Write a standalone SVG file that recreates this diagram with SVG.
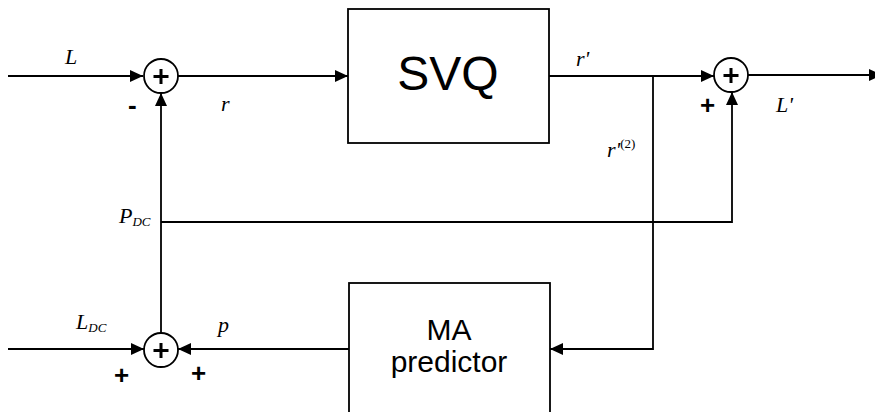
<svg xmlns="http://www.w3.org/2000/svg" width="875" height="412" viewBox="0 0 875 412">
<defs>
<marker id="arr" markerUnits="userSpaceOnUse" markerWidth="14" markerHeight="12" refX="13" refY="6" orient="auto">
<path d="M0,0 L13,6 L0,12 Z" fill="#000"/>
</marker>
<style>
.ln{fill:none;stroke:#000;stroke-width:1.8}
.box{fill:#fff;stroke:#000;stroke-width:1.8}
.sum{fill:#fff;stroke:#000;stroke-width:1.8}
.plus{stroke:#000;stroke-width:3;fill:none}
.lab{font-family:"Liberation Serif",serif;font-style:italic;font-size:22px;fill:#000}
.sub{font-size:13px}
.sign{font-family:"Liberation Sans",sans-serif;font-weight:bold;font-size:26px;fill:#000}
.big{font-family:"Liberation Sans",sans-serif;fill:#000;text-anchor:middle}
</style>
</defs>
<rect width="875" height="412" fill="#fff"/>
<g id="connectors">
<path class="ln" d="M8,76 L143,76" marker-end="url(#arr)"/>
<path class="ln" d="M178,76 L348,76" marker-end="url(#arr)"/>
<path class="ln" d="M549,76 L714,76" marker-end="url(#arr)"/>
<path class="ln" d="M748,75 L882,75" marker-end="url(#arr)"/>
<path class="ln" d="M161,333 L161,93" marker-end="url(#arr)"/>
<path class="ln" d="M161,222 L732,222 L732,92" marker-end="url(#arr)"/>
<path class="ln" d="M653,76 L653,349 L550,349" marker-end="url(#arr)"/>
<path class="ln" d="M8,349 L144,349" marker-end="url(#arr)"/>
<path class="ln" d="M349,349 L178,349" marker-end="url(#arr)"/>
</g>
<g id="sum1">
<circle class="sum" cx="161" cy="76" r="17"/>
<path class="plus" d="M161,69 V84 M153.5,76.5 H168.5"/>
</g>
<g id="sum2">
<circle class="sum" cx="161" cy="350" r="17"/>
<path class="plus" d="M161,343 V358 M153.5,350.5 H168.5"/>
</g>
<g id="sum3">
<circle class="sum" cx="731" cy="75" r="17"/>
<path class="plus" d="M731,68 V83 M723.5,75.5 H738.5"/>
</g>
<g id="svq">
<rect class="box" x="348" y="9" width="201" height="134"/>
<text class="big" x="448" y="90" font-size="48">SVQ</text>
</g>
<g id="ma">
<rect class="box" x="349" y="283" width="201" height="140"/>
<text class="big" x="449" y="340" font-size="30">MA</text>
<text class="big" x="449" y="372" font-size="30">predictor</text>
</g>
<g id="labels">
<text class="lab" x="65" y="64">L</text>
<text class="lab" x="221" y="111">r</text>
<text class="lab" x="576" y="66">r'</text>
<text class="lab" x="776" y="112">L'</text>
<text class="lab" x="607" y="157">r'<tspan class="sub" dy="-9" font-style="normal">(2)</tspan></text>
<text class="lab" x="119" y="223">P<tspan class="sub" dy="3">DC</tspan></text>
<text class="lab" x="76" y="329">L<tspan class="sub" dy="3">DC</tspan></text>
<text class="lab" x="218" y="332">p</text>
<text class="sign" x="128" y="114">-</text>
<text class="sign" x="700" y="114">+</text>
<text class="sign" x="114" y="384">+</text>
<text class="sign" x="191" y="382">+</text>
</g>
</svg>
